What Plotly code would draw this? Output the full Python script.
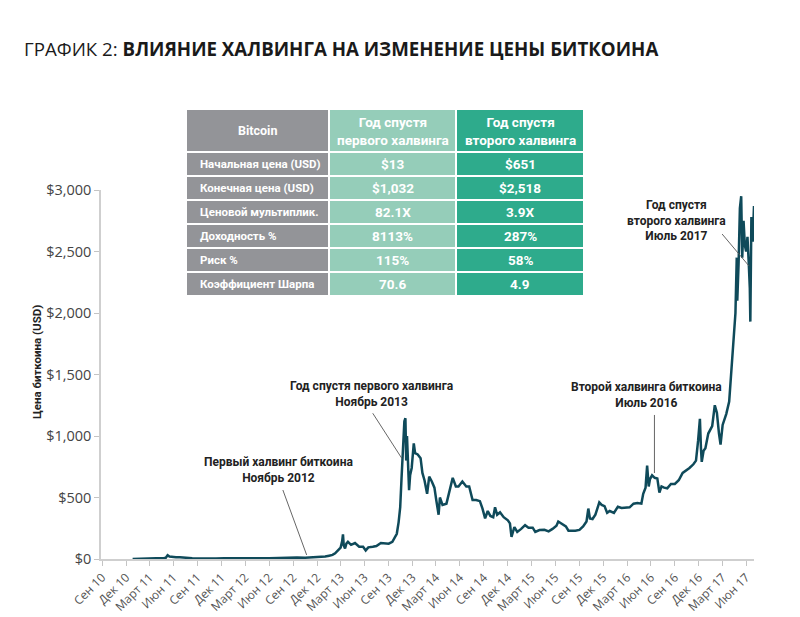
import plotly.graph_objects as go
import pandas as pd

# ---- price series ----
dates = [
 "2011-01-25","2011-02-10","2011-03-10","2011-04-10","2011-04-25","2011-05-10","2011-05-25",
 "2011-06-01","2011-06-08","2011-06-15","2011-06-25","2011-07-10","2011-07-25","2011-08-10","2011-08-25",
 "2011-09-10","2011-10-01","2011-10-20","2011-11-15","2011-12-10","2012-01-10","2012-02-01","2012-03-01",
 "2012-04-01","2012-05-01","2012-06-01","2012-07-01","2012-08-15","2012-08-20","2012-09-15","2012-10-15",
 "2012-11-15","2012-12-15","2013-01-10","2013-01-31","2013-02-15","2013-02-28","2013-03-10","2013-03-20",
 "2013-03-31","2013-04-06","2013-04-09","2013-04-12","2013-04-17","2013-04-22","2013-04-28","2013-05-10",
 "2013-05-25","2013-06-10","2013-06-25","2013-07-05","2013-07-15","2013-08-01","2013-08-15","2013-09-01",
 "2013-09-15","2013-10-01","2013-10-15","2013-10-25","2013-11-01","2013-11-08","2013-11-14","2013-11-19",
 "2013-11-22","2013-11-27","2013-11-30","2013-12-04","2013-12-07","2013-12-10","2013-12-13","2013-12-18",
 "2013-12-22","2013-12-28","2014-01-05","2014-01-10","2014-01-20","2014-01-31","2014-02-07","2014-02-15",
 "2014-02-25","2014-03-05","2014-03-15","2014-03-25","2014-04-01","2014-04-10","2014-04-15","2014-04-25",
 "2014-05-10","2014-05-25","2014-06-03","2014-06-15","2014-06-25","2014-07-10","2014-07-25","2014-08-05",
 "2014-08-18","2014-09-01","2014-09-15","2014-09-25","2014-10-05","2014-10-15","2014-10-25","2014-11-05",
 "2014-11-12","2014-11-20","2014-12-01","2014-12-15","2014-12-31","2015-01-08","2015-01-14","2015-01-25",
 "2015-02-05","2015-02-20","2015-03-07","2015-03-20","2015-04-05","2015-04-15","2015-05-01","2015-05-20",
 "2015-06-05","2015-06-20","2015-07-05","2015-07-12","2015-07-25","2015-08-10","2015-08-20","2015-09-01",
 "2015-09-15","2015-10-01","2015-10-15","2015-10-28","2015-11-04","2015-11-10","2015-11-20","2015-12-01",
 "2015-12-10","2015-12-16","2015-12-25","2016-01-05","2016-01-15","2016-01-25","2016-02-10","2016-02-25",
 "2016-03-10","2016-03-25","2016-04-10","2016-04-25","2016-05-10","2016-05-25","2016-06-01","2016-06-10",
 "2016-06-16","2016-06-22","2016-06-27","2016-07-05","2016-07-15","2016-07-25","2016-08-02","2016-08-10",
 "2016-08-20","2016-09-01","2016-09-15","2016-09-30","2016-10-15","2016-10-30","2016-11-10","2016-11-25",
 "2016-12-10","2016-12-20","2016-12-28","2017-01-04","2017-01-08","2017-01-11","2017-01-18","2017-01-25",
 "2017-02-05","2017-02-20","2017-03-02","2017-03-10","2017-03-18","2017-03-24","2017-04-01","2017-04-15",
 "2017-04-26","2017-05-05","2017-05-10","2017-05-20","2017-05-25","2017-05-27","2017-06-01","2017-06-06",
 "2017-06-11","2017-06-15","2017-06-20","2017-06-25","2017-06-30","2017-07-05","2017-07-10","2017-07-14",
 "2017-07-16","2017-07-20","2017-07-25","2017-07-30",
]
prices = [
 0.4,1.0,0.9,0.8,1.5,5,8,
 10,30,20,16,14,14,10,9,
 6,5,3,2.5,3.5,7,6,5,
 5,5,5.5,7,11,9,12,11.5,
 11,13.5,14,20,27,33,46,70,
 93,145,200,110,85,125,140,115,
 130,100,100,70,95,100,105,130,
 125,125,140,180,205,300,420,650,
 800,1000,1120,1145,800,1000,870,560,
 680,740,940,860,850,820,700,640,
 530,670,630,580,480,360,500,440,
 450,580,660,590,590,630,590,590,
 480,480,470,410,330,390,350,340,
 420,360,380,340,315,290,180,260,
 220,245,275,255,255,220,235,237,
 225,245,270,305,290,265,230,230,
 230,237,265,305,410,330,325,360,
 415,460,440,430,375,390,375,425,
 415,415,420,450,455,450,530,580,
 760,590,650,680,660,655,540,590,
 580,575,610,610,640,700,715,740,
 770,800,960,1140,900,790,880,900,
 1020,1080,1250,1190,1020,930,1090,1180,
 1280,1550,1750,2000,2450,2100,2400,2850,
 2950,2450,2750,2550,2500,2620,2400,2200,
 1930,2780,2580,2870,
]

tick_labels = ["Сен 10","Дек 10","Март 11","Июн 11","Сен 11","Дек 11","Март 12","Июн 12",
               "Сен 12","Дек 12","Март 13","Июн 13","Сен 13","Дек 13","Март 14","Июн 14",
               "Сен 14","Дек 14","Март 15","Июн 15","Сен 15","Дек 15","Март 16","Июн 16",
               "Сен 16","Дек 16","Март 17","Июн 17"]
tick_dates = pd.date_range("2010-09-30", "2017-06-30", freq="QE")
y_ticks = [0, 500, 1000, 1500, 2000, 2500, 3000]
y_tick_text = ["$0", "$500", "$1,000", "$1,500", "$2,000", "$2,500", "$3,000"]

# ---- table ----
tbl_header = ["Bitcoin", "Год спустя<br>первого халвинга", "Год спустя<br>второго халвинга"]
tbl_metrics = ["Начальная цена (USD)", "Конечная цена (USD)", "Ценовой мультиплик.",
               "Доходность %", "Риск %", "Коэффициент Шарпа"]
tbl_first = ["$13", "$1,032", "82.1X", "8113%", "115%", "70.6"]
tbl_second = ["$651", "$2,518", "3.9X", "287%", "58%", "4.9"]

# ---- annotations: (text, text_x, text_y, line_x0, line_y0, line_x1, line_y1) ----
notes = [
 ("Первый халвинг биткоина<br>Ноябрь 2012", "2012-08-07", 724, "2012-08-22", 561, "2012-11-21", 33),
 ("Год спустя первого халвинга<br>Ноябрь 2013", "2013-07-28", 1341, "2013-08-01", 1185, "2013-11-20", 819),
 ("Второй халвинга биткоина<br>Июль 2016", "2016-06-12", 1333, "2016-07-14", 1171, "2016-07-14", 699),
 ("Год спустя<br>второго халвинга<br>Июль 2017", "2016-10-05", 2756, "2017-03-30", 2642, "2017-07-11", 2382),
]

W, H = 800, 617
L, R, T, B = 101, 46, 0, 58
PW, PH = W - L - R, H - T - B

def px_x(px):
    return (px - L) / PW

def px_y(py):
    return (H - B - py) / PH

GRAY = "#939498"
LGREEN = "#95cdb9"
TEAL = "#2eab8c"
LINE = "#0f4a5a"

fig = go.Figure()
fig.add_trace(go.Scatter(x=dates, y=prices, mode="lines",
                         line=dict(color=LINE, width=2.5), showlegend=False, hoverinfo="skip"))

annotations = []
shapes = []

# table geometry (pixels)
TX0, TY0 = 187, 110
col_w = [141, 125, 126]
GAP = 2
HEAD_H, ROW_H = 41, 22
col_fill = [GRAY, LGREEN, TEAL]
columns = [tbl_metrics, tbl_first, tbl_second]

x_left = TX0
for c in range(3):
    x0, x1 = x_left, x_left + col_w[c]
    shapes.append(dict(type="rect", xref="paper", yref="paper", layer="above",
                       x0=px_x(x0), x1=px_x(x1), y0=px_y(TY0 + HEAD_H), y1=px_y(TY0),
                       fillcolor=col_fill[c], line=dict(width=0)))
    annotations.append(dict(x=px_x((x0 + x1) / 2), y=px_y(TY0 + HEAD_H / 2),
                            xanchor="center", yanchor="middle",
                            xref="paper", yref="paper", showarrow=False,
                            text="<b>%s</b>" % tbl_header[c], align="center",
                            font=dict(family="Roboto", size=13.5 if c else 12.5, color="white")))
    for r in range(len(tbl_metrics)):
        y0 = TY0 + HEAD_H + GAP + r * (ROW_H + GAP)
        y1 = y0 + ROW_H
        shapes.append(dict(type="rect", xref="paper", yref="paper", layer="above",
                           x0=px_x(x0), x1=px_x(x1), y0=px_y(y1), y1=px_y(y0),
                           fillcolor=col_fill[c], line=dict(width=0)))
        if c == 0:
            annotations.append(dict(x=px_x(x0 + 11), y=px_y((y0 + y1) / 2),
                                    xanchor="left", yanchor="middle",
                                    xref="paper", yref="paper", showarrow=False,
                                    text="<b>%s</b>" % columns[c][r],
                                    font=dict(family="Roboto", size=11.5, color="white")))
        else:
            annotations.append(dict(x=px_x((x0 + x1) / 2), y=px_y((y0 + y1) / 2),
                                    xanchor="center", yanchor="middle",
                                    xref="paper", yref="paper", showarrow=False,
                                    text="<b>%s</b>" % columns[c][r],
                                    font=dict(family="Roboto", size=13.5, color="white")))
    x_left = x1 + GAP

for text, tx, ty, x0, y0, x1, y1 in notes:
    annotations.append(dict(x=tx, y=ty, xref="x", yref="y", text="<b>%s</b>" % text,
                            xanchor="center", yanchor="middle",
                            showarrow=False, align="center",
                            font=dict(family="Roboto", size=12, color="#222")))
    shapes.append(dict(type="line", xref="x", yref="y", x0=x0, y0=y0, x1=x1, y1=y1,
                       line=dict(color="#555", width=0.9)))

annotations.append(dict(x=px_x(22), y=px_y(48), xref="paper", yref="paper",
                        xanchor="left", yanchor="middle", showarrow=False,
                        text="ГРАФИК 2: <b>ВЛИЯНИЕ ХАЛВИНГА НА ИЗМЕНЕНИЕ ЦЕНЫ БИТКОИНА</b>",
                        font=dict(family="Open Sans", size=18.7, color="#1a1a1a")))
annotations.append(dict(x=px_x(37), y=px_y(362), xref="paper", yref="paper",
                        xanchor="center", yanchor="middle", showarrow=False, textangle=-90,
                        text="<b>Цена биткоина (USD)</b>",
                        font=dict(family="Roboto", size=11.5, color="#222")))

fig.update_layout(
    width=W, height=H, margin=dict(l=L, r=R, t=T, b=B),
    paper_bgcolor="white", plot_bgcolor="white",
    annotations=annotations, shapes=shapes, showlegend=False,
    xaxis=dict(type="date", range=["2010-09-26", "2017-07-30"],
               tickvals=tick_dates, ticktext=tick_labels, tickangle=-45,
               ticks="outside", ticklen=5, tickcolor="#c4c4c4",
               showline=True, linecolor="#cfcfcf", linewidth=1.5,
               showgrid=False, zeroline=False, automargin=False,
               tickfont=dict(family="Open Sans", size=12, color="#555")),
    yaxis=dict(range=[0, 3000], domain=[0, px_y(190)],
               tickvals=y_ticks, ticktext=y_tick_text,
               ticks="outside", ticklen=5, tickcolor="#c4c4c4",
               showline=True, linecolor="#cfcfcf", linewidth=1.5,
               showgrid=False, zeroline=False, automargin=False,
               tickfont=dict(family="Open Sans", size=14.5, color="#444")),
)

fig.write_html("out.html", config=dict(displayModeBar=False))
